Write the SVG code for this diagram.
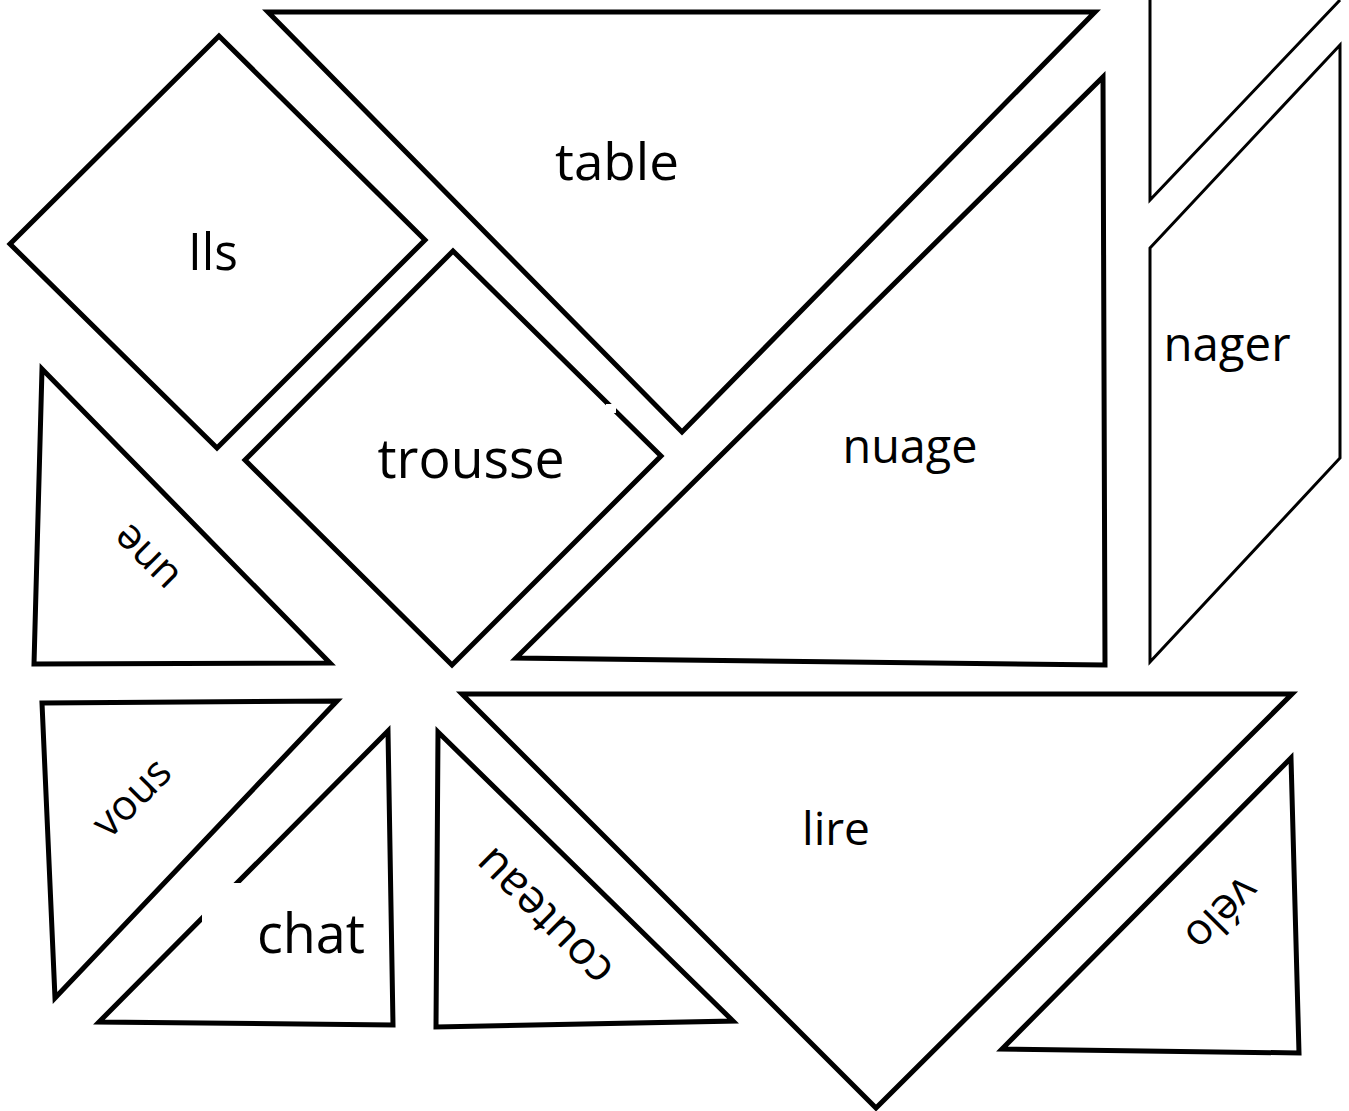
<svg xmlns="http://www.w3.org/2000/svg" width="1349" height="1111" viewBox="0 0 1349 1111">
<style>
.p{fill:#fff;stroke:#000;stroke-width:5;stroke-linejoin:miter}
.thin{stroke-width:3}
.t{font-family:"Open Sans","Liberation Sans",sans-serif;fill:#000;text-anchor:middle}
</style>
<rect width="1349" height="1111" fill="#fff"/>
<g id="piece-ils">
<polygon class="p" points="219,36 425,240 217,448 10,244"/>
<text class="t" x="213" y="270" font-size="52" textLength="50" lengthAdjust="spacingAndGlyphs">Ils</text>
</g>
<g id="piece-table">
<polygon class="p" points="268,12 1095,12 682,432"/>
<text class="t" x="617" y="180" font-size="52" textLength="124" lengthAdjust="spacingAndGlyphs">table</text>
</g>
<g id="piece-trousse">
<polygon class="p" points="453,251 661,456 452,665 245,460"/>
<rect x="606" y="404" width="10" height="9" fill="#fff"/>
<text class="t" x="471" y="478" font-size="54" textLength="187" lengthAdjust="spacingAndGlyphs">trousse</text>
</g>
<g id="piece-nuage">
<polygon class="p" points="1103,77 1105,665 516,658"/>
<text class="t" x="910" y="463" font-size="47" textLength="135" lengthAdjust="spacingAndGlyphs">nuage</text>
</g>
<g id="piece-nager-top">
<polyline class="p thin" points="1150,-5 1150,200 1340,0"/>
</g>
<g id="piece-nager">
<polygon class="p thin" points="1150,248 1340,45 1340,458 1150,662"/>
<text class="t" x="1227" y="361" font-size="47" textLength="127" lengthAdjust="spacingAndGlyphs">nager</text>
</g>
<g id="piece-une">
<polygon class="p" points="42,369 330,663 34,664"/>
<text class="t" transform="translate(148,556) rotate(-135)" x="0" y="11" font-size="42">une</text>
</g>
<g id="piece-vous">
<polygon class="p" points="42,703 337,701 55,998"/>
<text class="t" transform="translate(133,799) rotate(-45)" x="0" y="12" font-size="42">vous</text>
</g>
<g id="piece-chat">
<polygon class="p" points="388,731 393,1025 99,1022"/>
<rect x="202" y="883" width="185" height="102" fill="#fff"/>
<text class="t" x="311" y="953" font-size="54" textLength="108" lengthAdjust="spacingAndGlyphs">chat</text>
</g>
<g id="piece-couteau">
<polygon class="p" points="438,732 733,1021 436,1027"/>
<text class="t" transform="translate(546,915) rotate(-135)" x="0" y="12" font-size="46">couteau</text>
</g>
<g id="piece-lire">
<polygon class="p" points="462,694 1292,694 876,1108"/>
<text class="t" x="836" y="845" font-size="46" textLength="68" lengthAdjust="spacingAndGlyphs">lire</text>
</g>
<g id="piece-velo">
<polygon class="p" points="1291,758 1299,1053 1002,1049"/>
<text class="t" transform="translate(1220,912) rotate(135)" x="0" y="12" font-size="44">vélo</text>
</g>
<g id="connectors"/>
</svg>
